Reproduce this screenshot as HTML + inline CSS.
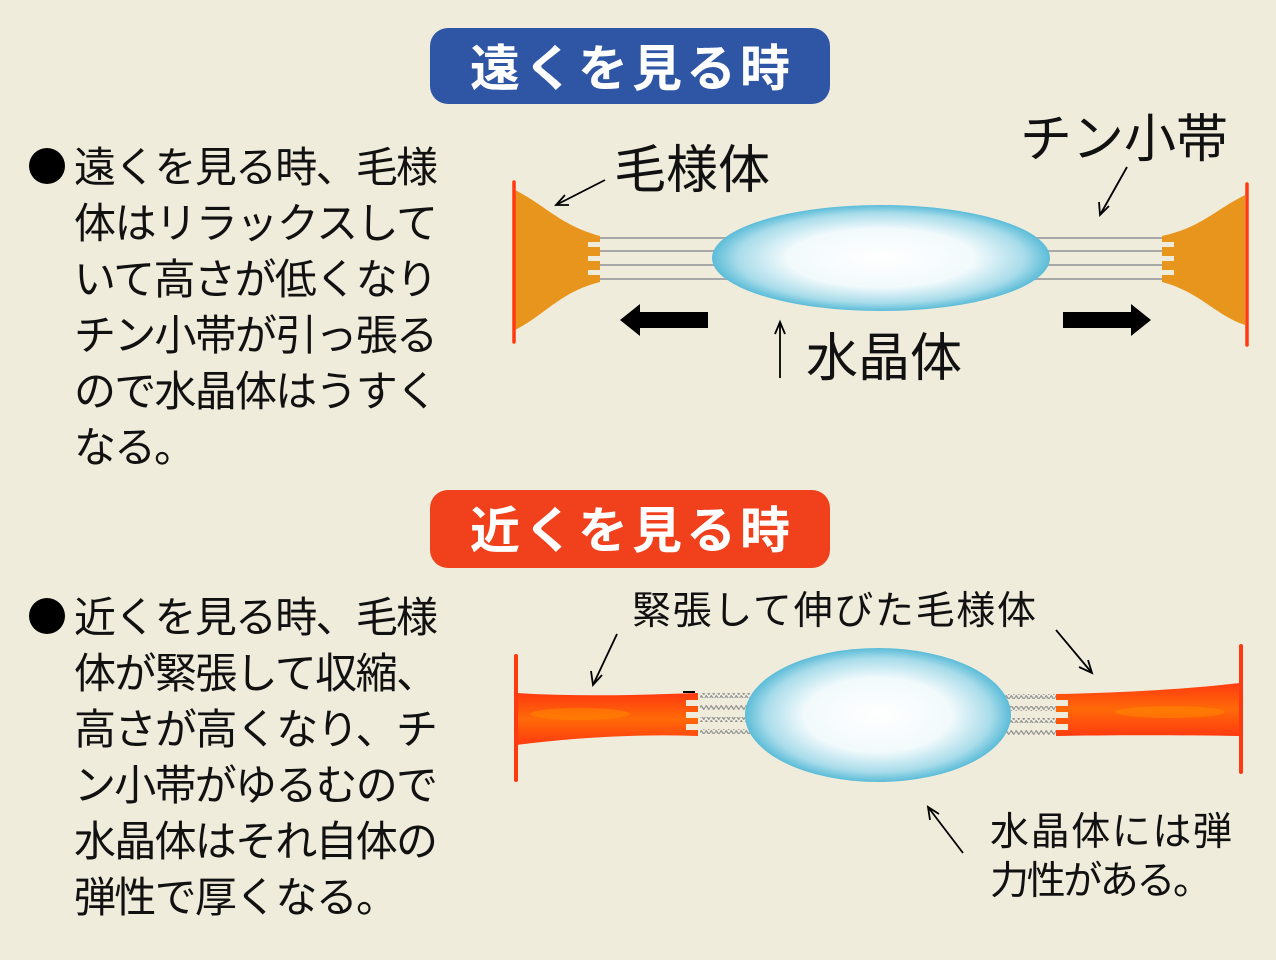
<!DOCTYPE html>
<html><head><meta charset="utf-8"><style>
html,body{margin:0;padding:0;background:#f0ecdc;}
svg{display:block;}
text{font-family:"Liberation Sans","Noto Sans CJK JP",sans-serif;}
</style></head><body>
<svg width="1276" height="960" viewBox="0 0 1276 960" xmlns="http://www.w3.org/2000/svg">
<defs>
<radialGradient id="lens" cx="50%" cy="50%" r="50%">
<stop offset="0" stop-color="#ffffff"/><stop offset="0.55" stop-color="#f2fafc"/><stop offset="0.85" stop-color="#a8dcea"/><stop offset="1" stop-color="#5bbcd8"/>
</radialGradient>
<linearGradient id="band" x1="0" y1="0" x2="0" y2="1">
<stop offset="0" stop-color="#ff3a10"/><stop offset="0.5" stop-color="#ff6a08"/><stop offset="1" stop-color="#ff3a10"/>
</linearGradient>
<pattern id="zz" width="5" height="5" patternUnits="userSpaceOnUse">
<polyline points="0,2.5 1.25,0.7 3.75,4.3 5,2.5" fill="none" stroke="#999" stroke-width="1.4"/>
</pattern>
</defs>
<rect width="1276" height="960" fill="#f0ecdc"/>

<rect x="430" y="28" width="400" height="76" rx="18" fill="#2f56a5"/>
<text x="630" y="86" font-size="50" font-weight="bold" fill="#fff" text-anchor="middle" textLength="320">遠くを見る時</text>
<rect x="430" y="490" width="400" height="78" rx="18" fill="#f0401c"/>
<text x="630" y="548" font-size="50" font-weight="bold" fill="#fff" text-anchor="middle" textLength="320">近くを見る時</text>

<g font-size="42" fill="#111">
<circle cx="47" cy="166" r="18" fill="#000"/>
<text x="74" y="182" textLength="364">遠くを見る時、毛様</text>
<text x="74" y="238" textLength="364">体はリラックスして</text>
<text x="74" y="294" textLength="364">いて高さが低くなり</text>
<text x="74" y="350" textLength="364">チン小帯が引っ張る</text>
<text x="74" y="406" textLength="364">ので水晶体はうすく</text>
<text x="74" y="462" textLength="122">なる。</text>

<circle cx="47" cy="616" r="18" fill="#000"/>
<text x="74" y="632" textLength="364">近くを見る時、毛様</text>
<text x="74" y="688" textLength="364">体が緊張して収縮、</text>
<text x="74" y="744" textLength="364">高さが高くなり、チ</text>
<text x="74" y="800" textLength="364">ン小帯がゆるむので</text>
<text x="74" y="856" textLength="364">水晶体はそれ自体の</text>
<text x="74" y="912" textLength="324">弾性で厚くなる。</text>
</g>

<g stroke="#a8a8a8" stroke-width="2">
<line x1="598" y1="238" x2="730" y2="238"/><line x1="598" y1="251" x2="720" y2="251"/>
<line x1="598" y1="265" x2="720" y2="265"/><line x1="598" y1="279" x2="730" y2="279"/>
<line x1="1020" y1="238" x2="1165" y2="238"/><line x1="1030" y1="251" x2="1165" y2="251"/>
<line x1="1030" y1="265" x2="1165" y2="265"/><line x1="1020" y1="279" x2="1165" y2="279"/>
</g>
<path d="M515,190 C545,205 560,225 600,236 L600,242 L588,242 L588,247 L600,247 L600,256 L588,256 L588,261 L600,261 L600,270 L588,270 L588,275 L600,275 L600,282 C560,292 545,315 515,330 Z" fill="#e8951e"/>
<path d="M1245,195 C1215,210 1200,228 1162,236 L1162,242 L1174,242 L1174,247 L1162,247 L1162,256 L1174,256 L1174,261 L1162,261 L1162,270 L1174,270 L1174,275 L1162,275 L1162,282 C1200,292 1215,315 1245,325 Z" fill="#e8951e"/>
<line x1="514" y1="182" x2="514" y2="342" stroke="#ff3a10" stroke-width="3.5" stroke-linecap="round"/>
<line x1="1247" y1="184" x2="1247" y2="345" stroke="#ff3a10" stroke-width="3.5" stroke-linecap="round"/>
<ellipse cx="881" cy="258" rx="169" ry="53" fill="url(#lens)"/>
<path d="M708,312 L640,312 L640,304 L620,320 L640,336 L640,328 L708,328 Z" fill="#000"/>
<path d="M1063,312 L1131,312 L1131,304 L1151,320 L1131,336 L1131,328 L1063,328 Z" fill="#000"/>
<g stroke="#000" stroke-width="1.8" fill="none">
<line x1="780" y1="378" x2="780" y2="322"/><polyline points="775,334 780,322 785,334"/>
<line x1="605" y1="180" x2="556" y2="205"/><polyline points="565,195 556,205 569,205"/>
<line x1="1127" y1="167" x2="1100" y2="215"/><polyline points="1099,202 1100,215 1109,206"/>
</g>
<g font-size="52" fill="#111">
<text x="614" y="188">毛様体</text>
<text x="1020" y="157">チン小帯</text>
<text x="806" y="376">水晶体</text>
</g>

<rect x="700" y="693" width="50" height="5" fill="url(#zz)"/>
<rect x="700" y="705" width="50" height="5" fill="url(#zz)"/>
<rect x="700" y="717" width="50" height="5" fill="url(#zz)"/>
<rect x="700" y="729" width="50" height="5" fill="url(#zz)"/>
<rect x="1005" y="694" width="56" height="5" fill="url(#zz)"/>
<rect x="1005" y="706" width="56" height="5" fill="url(#zz)"/>
<rect x="1005" y="718" width="56" height="5" fill="url(#zz)"/>
<rect x="1005" y="730" width="56" height="5" fill="url(#zz)"/>
<path d="M516,693 C580,697 640,695 698,693 L698,700 L686,700 L686,706 L698,706 L698,712 L686,712 L686,718 L698,718 L698,724 L686,724 L686,730 L698,730 L698,736 C640,734 580,737 516,745 Z" fill="url(#band)"/>
<path d="M1240,683 C1180,690 1110,693 1056,694 L1056,700 L1068,700 L1068,706 L1056,706 L1056,712 L1068,712 L1068,718 L1056,718 L1056,724 L1068,724 L1068,730 L1056,730 L1056,736 C1110,735 1180,735 1240,736 Z" fill="url(#band)"/>
<ellipse cx="580" cy="714" rx="50" ry="6" fill="#ff8a00" opacity="0.5"/>
<ellipse cx="1170" cy="712" rx="55" ry="6" fill="#ff8a00" opacity="0.5"/>
<line x1="683" y1="692" x2="695" y2="692" stroke="#000" stroke-width="2"/>
<line x1="516" y1="656" x2="516" y2="780" stroke="#ff3a10" stroke-width="4" stroke-linecap="round"/>
<line x1="1241" y1="646" x2="1241" y2="772" stroke="#ff3a10" stroke-width="4" stroke-linecap="round"/>
<ellipse cx="878" cy="715" rx="133" ry="67" fill="url(#lens)"/>
<g stroke="#000" stroke-width="1.8" fill="none">
<line x1="617" y1="634" x2="593" y2="685"/><polyline points="591,671 593,685 602,675"/>
<line x1="1056" y1="630" x2="1092" y2="673"/><polyline points="1079,667 1092,673 1088,660"/>
<line x1="963" y1="853" x2="928" y2="807"/><polyline points="930,820 928,807 939,814"/>
</g>
<g font-size="39" fill="#111">
<text x="632" y="624" textLength="404">緊張して伸びた毛様体</text>
<text x="990" y="845" textLength="242">水晶体には弾</text>
<text x="990" y="894" textLength="222">力性がある。</text>
</g>
</svg>
</body></html>
